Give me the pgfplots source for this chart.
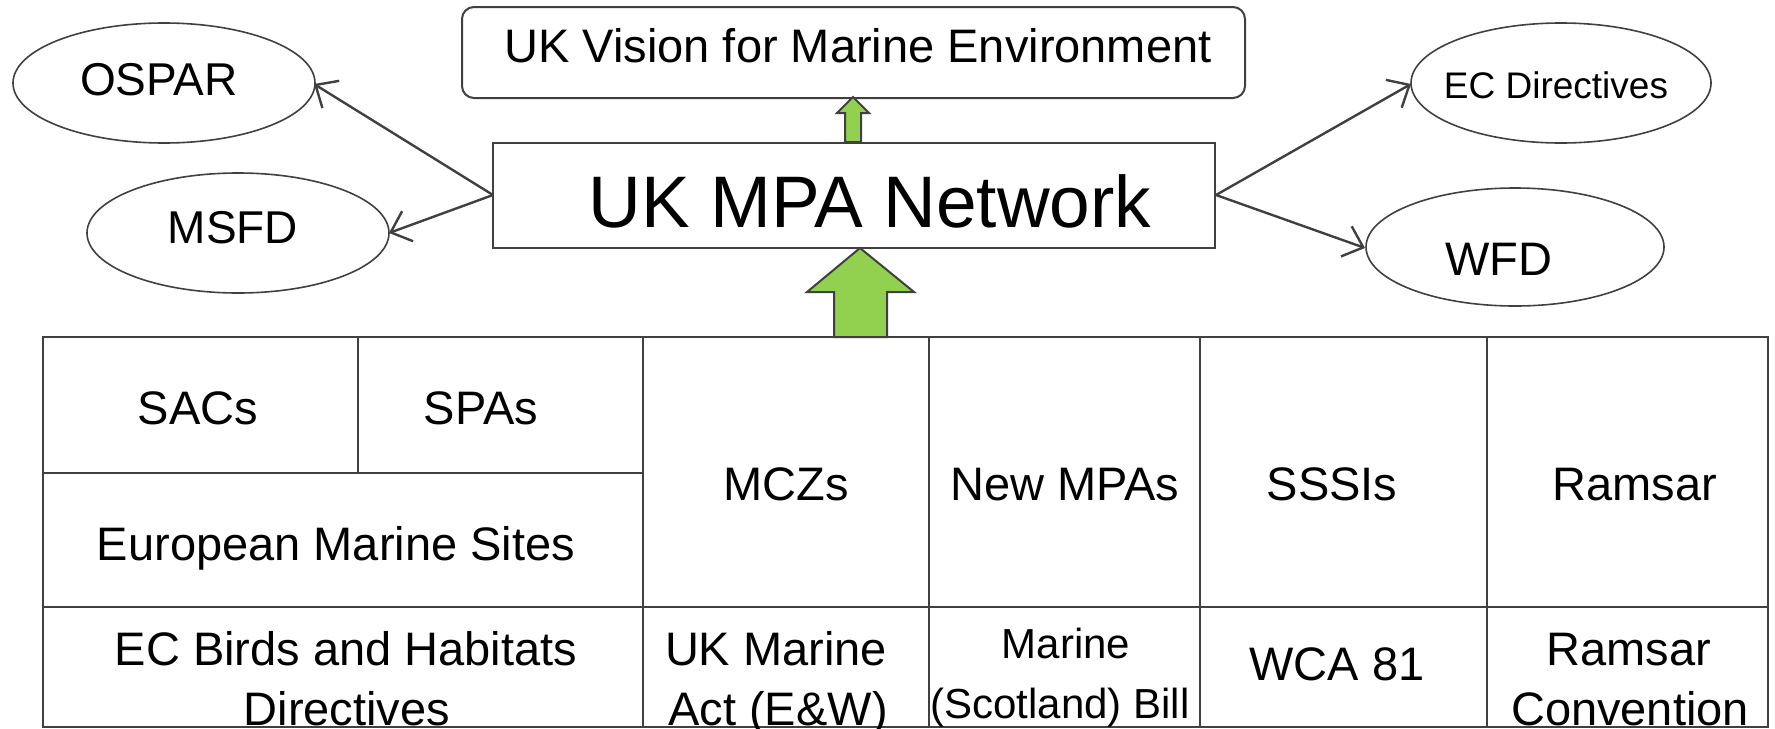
\documentclass[border=0pt]{standalone}
\usepackage{pgfplots}
\pgfplotsset{compat=1.18}
\usepackage{fontspec}
\setmainfont{Liberation Sans}
\usetikzlibrary{arrows.meta}
\definecolor{ln}{HTML}{404040}
\definecolor{grn}{HTML}{92D050}
\tikzset{
  t/.style={anchor=base, inner sep=0pt, font=\fontsize{11.75}{14}\selectfont},
  arr/.style={ln, line width=0.6pt, -{Straight Barb[length=4.5pt,width=8pt,line width=0.6pt]}}}
\begin{document}
\begin{tikzpicture}
\begin{axis}[scale only axis, width=443.75pt, height=182pt,
  xmin=0, xmax=1775, ymin=0, ymax=728, y dir=reverse,
  hide axis, clip=false, no marks]
\coordinate (bl) at (axis cs:0,728);
\coordinate (tr) at (axis cs:1775,0);
% table grid
\addplot[ln, line width=0.5pt] coordinates {(43,337)(1768,337)(1768,727)(43,727)} --cycle;
\addplot[ln, line width=0.5pt] coordinates {(43,607)(1768,607)};
\addplot[ln, line width=0.4pt] coordinates {(43,473)(643,473)};
\addplot[ln, line width=0.4pt] coordinates {(358,337)(358,473)};
\addplot[ln, line width=0.4pt] coordinates {(643,337)(643,727)};
\addplot[ln, line width=0.4pt] coordinates {(929,337)(929,727)};
\addplot[ln, line width=0.4pt] coordinates {(1200,337)(1200,727)};
\addplot[ln, line width=0.4pt] coordinates {(1487,337)(1487,727)};
% boxes
\draw[ln, line width=0.5pt, rounded corners=3pt] (axis cs:462,7) rectangle (axis cs:1245,98);
\draw[ln, line width=0.5pt] (axis cs:493,143) rectangle (axis cs:1215,248);
% green arrows
\addplot[fill=grn, draw=ln, line width=0.5pt] coordinates {(845,142)(845,113)(837,113)(853,97)(869,113)(861,113)(861,142)} --cycle;
\addplot[fill=grn, draw=ln, line width=0.5pt] coordinates {(834,337)(834,292)(807,292)(860,248)(914,292)(887,292)(887,337)} --cycle;
% ellipses
\draw[ln, line width=0.4pt] (axis cs:164,83) ellipse [x radius=37.75pt, y radius=15pt];
\draw[ln, line width=0.4pt] (axis cs:238,233) ellipse [x radius=37.75pt, y radius=15pt];
\draw[ln, line width=0.4pt] (axis cs:1561,83) ellipse [x radius=37.5pt, y radius=15pt];
\draw[ln, line width=0.4pt] (axis cs:1515,247) ellipse [x radius=37.25pt, y radius=14.75pt];
% connectors
\addplot[arr] coordinates {(493,195)(314,84)};
\addplot[arr] coordinates {(493,195)(389,233)};
\addplot[arr] coordinates {(1216,195)(1411,84)};
\addplot[arr] coordinates {(1216,195)(1365,248)};
% texts
\node[t] at (axis cs:858,63) {UK Vision for Marine Environment};
\node[t, font=\fontsize{18.25}{22}\selectfont] at (axis cs:870,227) {UK MPA Network};
\node[t, font=\fontsize{11.5}{14}\selectfont] at (axis cs:159,95) {OSPAR};
\node[t, font=\fontsize{11.5}{14}\selectfont] at (axis cs:233,243) {MSFD};
\node[t, font=\fontsize{9.25}{11}\selectfont] at (axis cs:1556,98) {EC Directives};
\node[t] at (axis cs:1499,275) {WFD};
\node[t] at (axis cs:198,424) {SACs};
\node[t] at (axis cs:481,424) {SPAs};
\node[t] at (axis cs:336,560) {European Marine Sites};
\node[t] at (axis cs:786,500) {MCZs};
\node[t] at (axis cs:1065,500) {New MPAs};
\node[t] at (axis cs:1332,500) {SSSIs};
\node[t] at (axis cs:1635,500) {Ramsar};
\node[t] at (axis cs:346,665) {EC Birds and Habitats};
\node[t] at (axis cs:347,725) {Directives};
\node[t] at (axis cs:776,665) {UK Marine};
\node[t] at (axis cs:778,725) {Act (E\&W)};
\node[t, font=\fontsize{10.5}{12.6}\selectfont] at (axis cs:1066,658) {Marine};
\node[t, font=\fontsize{10.5}{12.6}\selectfont] at (axis cs:1060,718) {(Scotland) Bill};
\node[t] at (axis cs:1337,680) {WCA 81};
\node[t] at (axis cs:1629,665) {Ramsar};
\node[t] at (axis cs:1630,725) {Convention};
\end{axis}
\pgfresetboundingbox
\path (bl) rectangle (tr);
\end{tikzpicture}
\end{document}
